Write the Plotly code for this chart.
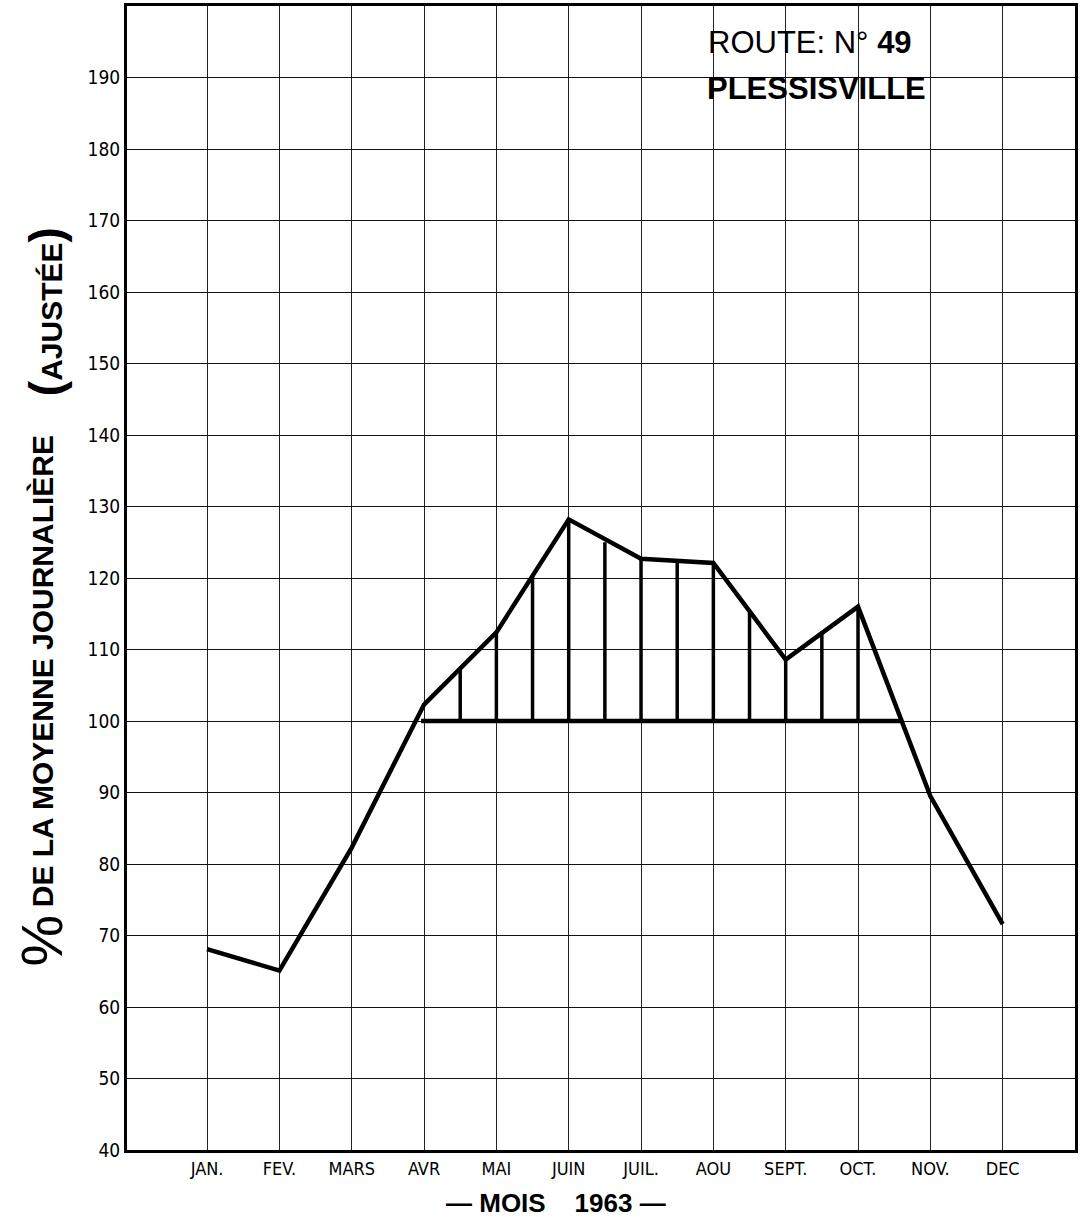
import plotly.graph_objects as go

# ---- data ----
months = [1, 2, 3, 4, 5, 6, 7, 8, 9, 10, 11, 12]
month_labels = ["JAN.", "FEV.", "MARS", "AVR", "MAI", "JUIN", "JUIL.", "AOU", "SEPT.", "OCT.", "NOV.", "DEC"]
pct_values = [68.1, 65.1, 82.3, 102.3, 112.4, 128.2, 122.7, 122.1, 108.6, 116.0, 89.5, 71.6]

hatch_x = [4.5, 5, 5.5, 6, 6.5, 7, 7.5, 8, 8.5, 9, 9.5, 10]
hatch_top = [107.4, 112.4, 120.4, 128.2, 125.0, 122.7, 122.2, 122.1, 115.3, 108.6, 112.5, 116.0]

baseline_level = 100
baseline_span = [3.96, 10.6]

y_ticks = [40, 50, 60, 70, 80, 90, 100, 110, 120, 130, 140, 150, 160, 170, 180, 190]

# ---- build figure ----
fig = go.Figure()

hx, hy = [], []
for x, top in zip(hatch_x, hatch_top):
    hx += [x, x, None]
    hy += [baseline_level, top, None]
fig.add_trace(go.Scatter(x=hx, y=hy, mode="lines",
                         line=dict(color="black", width=3.5), hoverinfo="skip", showlegend=False))

fig.add_trace(go.Scatter(x=baseline_span, y=[baseline_level, baseline_level], mode="lines",
                         line=dict(color="black", width=4.5), hoverinfo="skip", showlegend=False))

fig.add_trace(go.Scatter(x=months, y=pct_values, mode="lines",
                         line=dict(color="black", width=4.5), showlegend=False))

narrow = "Liberation Sans Narrow, DejaVu Sans Condensed, Arial Narrow, Arial, sans-serif"
bold_font = "Liberation Sans, Arial, sans-serif"

fig.update_layout(
    width=1089, height=1217,
    margin=dict(l=127, r=14, t=3, b=67),
    paper_bgcolor="white", plot_bgcolor="white",
    xaxis=dict(range=[-0.107, 13.0], tickmode="array", tickvals=months, ticktext=month_labels,
               showgrid=True, gridcolor="#222", gridwidth=1,
               showline=True, linecolor="black", linewidth=3, mirror=True,
               zeroline=False, ticks="", tickfont=dict(family=narrow, size=18, color="black")),
    yaxis=dict(range=[40, 200], tickmode="array", tickvals=y_ticks,
               showgrid=True, gridcolor="#111", gridwidth=1.4,
               showline=True, linecolor="black", linewidth=3, mirror=True,
               zeroline=False, ticks="", tickfont=dict(family=narrow, size=19, color="black")),
)

def px_y(ypix):
    return (1150 - ypix) / 1147.0

def px_x(xpix):
    return (xpix - 127) / 948.0

ann = [
    dict(text="%", x=px_x(42), y=px_y(940), textangle=-90, font=dict(family=bold_font, size=58)),
    dict(text="<b>DE LA MOYENNE JOURNALIÈRE</b>", x=px_x(42), y=px_y(670), textangle=-90,
         font=dict(family=bold_font, size=30)),
    dict(text="<b><span style='font-size:46px'>(</span>AJUSTÉE<span style='font-size:46px'>)</span></b>",
         x=px_x(46), y=px_y(310), textangle=-90, font=dict(family=bold_font, size=30)),
    dict(text="<b>— MOIS    1963 —</b>", x=px_x(556), y=px_y(1203), font=dict(family=bold_font, size=26)),
    dict(text="ROUTE: N° <b>49</b>", x=px_x(706), y=px_y(40), xanchor="left",
         font=dict(family=bold_font, size=31)),
    dict(text="<b>PLESSISVILLE</b>", x=px_x(705), y=px_y(86), xanchor="left",
         font=dict(family=bold_font, size=31)),
]
for a in ann:
    a.setdefault("xanchor", "center")
    a["yanchor"] = "middle"
    a["xref"] = "paper"
    a["yref"] = "paper"
    a["showarrow"] = False
    a["font"]["color"] = "black"
    fig.add_annotation(**a)

fig.write_html("out.html", config={"displayModeBar": False},
               post_script="document.body.style.margin='0';")
